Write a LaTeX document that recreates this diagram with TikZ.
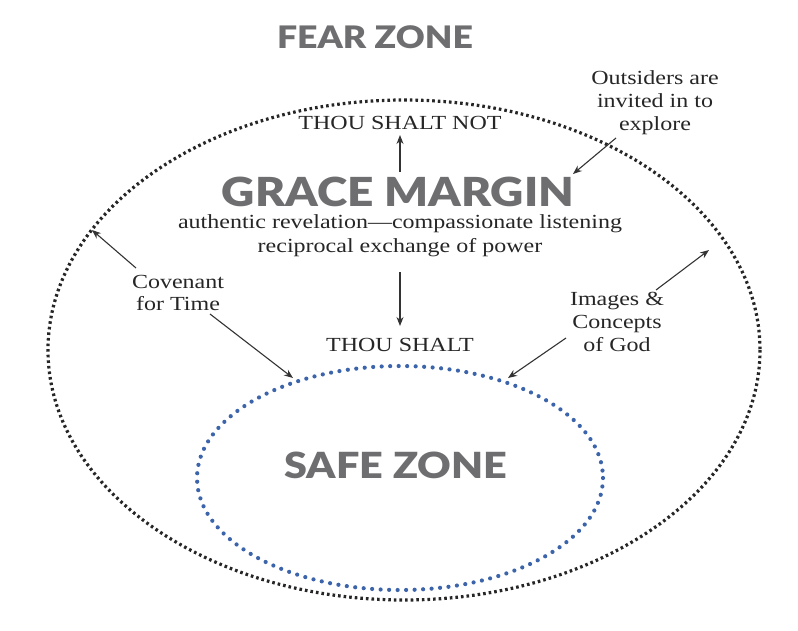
\documentclass[tikz,border=0pt]{standalone}
\usepackage{fontspec}
\setmainfont{Liberation Serif}[FakeStretch=1.2]
\newfontfamily\hd{Lato Black}[FakeStretch=1.15]
\usetikzlibrary{arrows.meta}
\definecolor{gr}{RGB}{110,110,112}
\definecolor{bl}{RGB}{60,100,170}
\begin{document}
\begin{tikzpicture}[x=1pt,y=-1pt,
  lbl/.style={font=\fontsize{20}{24}\selectfont,align=center,text=black!85},
  hdg/.style={font=\hd,text=gr},
  arr/.style={-{Stealth[length=9pt,width=7pt]},black!80,line width=1.1pt}]
\useasboundingbox (0,0) rectangle (798,630);
\draw[line width=3.2pt,dash pattern=on 2.6pt off 3pt,black!85] (404,350) ellipse [x radius=356,y radius=250];
\draw[line width=4.2pt,line cap=round,dash pattern=on 0pt off 8.5pt,bl] (400,478) ellipse [x radius=203,y radius=112];
\node[hdg,font=\hd\fontsize{31}{34}\selectfont] (fear) at (375,37) {FEAR ZONE};
\node[hdg,font=\hd\fontsize{40}{44}\selectfont] (grace) at (398,192) {GRACE MARGIN};
\node[hdg,font=\hd\fontsize{36}{40}\selectfont] (safe) at (396,465) {SAFE ZONE};
\node[lbl] (not) at (400,123) {THOU SHALT NOT};
\node[lbl] (shalt) at (400,345) {THOU SHALT};
\node[lbl] (d1) at (400,224) {authentic revelation—compassionate listening};
\node[lbl] (d2) at (400,248) {reciprocal exchange of power};
\node[lbl,font=\fontsize{20}{23}\selectfont] (out) at (655,103) {Outsiders are\\invited in to\\explore};
\node[lbl,font=\fontsize{20}{22}\selectfont] (cov) at (178,293) {Covenant\\for Time};
\node[lbl,font=\fontsize{20}{23}\selectfont] (img) at (617,322) {Images \&\\Concepts\\of God};
\coordinate (a1s) at (400,172); \coordinate (a1e) at (400,135);
\coordinate (a2s) at (400,272); \coordinate (a2e) at (400,326);
\coordinate (a3s) at (616,138); \coordinate (a3e) at (573,174);
\coordinate (a4s) at (136,268); \coordinate (a4e) at (92,230);
\coordinate (a5s) at (210,314); \coordinate (a5e) at (293,378);
\coordinate (a6s) at (656,290); \coordinate (a6e) at (709,250);
\coordinate (a7s) at (566,338); \coordinate (a7e) at (508,378);
\foreach \i in {1,...,7} \draw[arr] (a\i s) -- (a\i e);
\end{tikzpicture}
\end{document}
